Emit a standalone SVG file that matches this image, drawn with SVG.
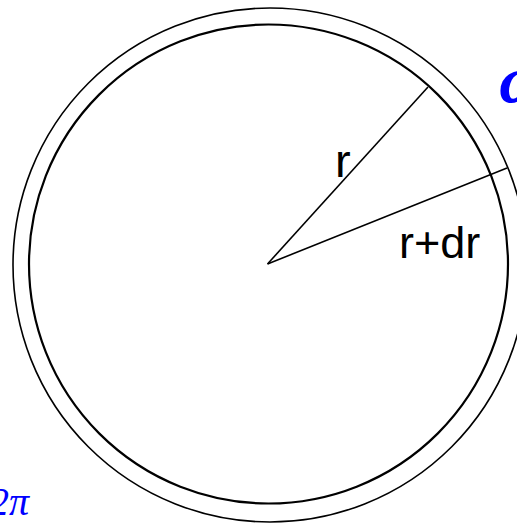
<svg xmlns="http://www.w3.org/2000/svg" width="517" height="524" viewBox="0 0 517 524">
<style>
.ring{fill:none;stroke:#000}
.rad{stroke:#000;stroke-width:1.6;fill:none}
.lbl{font-family:"Liberation Sans",Arial,sans-serif;fill:#000}
.math{font-family:"Liberation Serif","Times New Roman",serif;font-style:italic;fill:#0000ff}
</style>
<rect width="517" height="524" fill="#fff"/>
<g id="outer-circle"><circle class="ring" cx="270" cy="265" r="257" stroke-width="1.6"/></g>
<g id="inner-circle"><circle class="ring" cx="268.5" cy="264" r="239.5" stroke-width="2.2"/></g>
<g id="connectors">
<line class="rad" x1="267.5" y1="264" x2="428" y2="87"/>
<line class="rad" x1="267.5" y1="264" x2="507" y2="168"/>
</g>
<g id="label-r"><text class="lbl" x="335" y="177" font-size="47">r</text></g>
<g id="label-rdr"><text class="lbl" x="399" y="258" font-size="45">r+dr</text></g>
<g id="label-omega"><text class="math" x="499" y="102" font-size="68" font-weight="bold">ω</text></g>
<g id="label-2pi"><text class="math" x="-11" y="515" font-size="40">2π</text></g>
</svg>
